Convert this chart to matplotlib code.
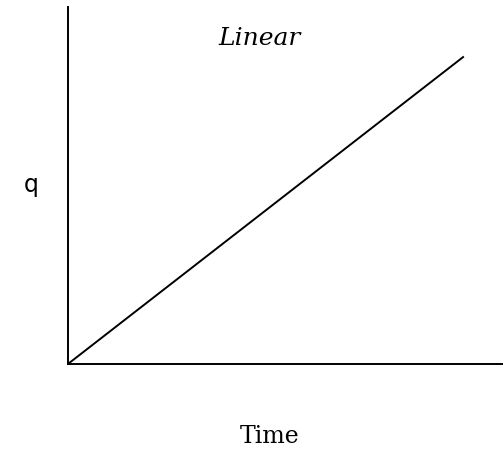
#Linear q vs time sketch

import matplotlib
matplotlib.use("Agg")
import matplotlib.pyplot as plt

# data: straight line through the origin
time = [0, 1]
q = [0, 1]
title_text = "Linear"
xlabel_text = "Time"
ylabel_text = "q"

fig = plt.figure(figsize=(5.03, 4.60), dpi=100)
ax = fig.add_axes([0.135, 0.2065, 0.865, 0.776])

ax.plot(time, q, color="black", lw=1.4)

ax.set_xlim(0, 1.101)
ax.set_ylim(0, 1.163)

# only left and bottom axis lines, no ticks
for side in ["top", "right"]:
    ax.spines[side].set_visible(False)
for side in ["left", "bottom"]:
    ax.spines[side].set_linewidth(1.4)
ax.set_xticks([])
ax.set_yticks([])

ax.text(0.44, 0.916, title_text, transform=ax.transAxes, ha="center", va="center",
        fontsize=18, style="italic", family="DejaVu Serif")
fig.text(270/503, 1 - 437/460, xlabel_text, ha="center", va="center",
         fontsize=17, family="DejaVu Serif")
fig.text(31/503, 1 - 185/460, ylabel_text, ha="center", va="center",
         fontsize=17, family="DejaVu Sans")

fig.savefig("out.png", dpi=100)
